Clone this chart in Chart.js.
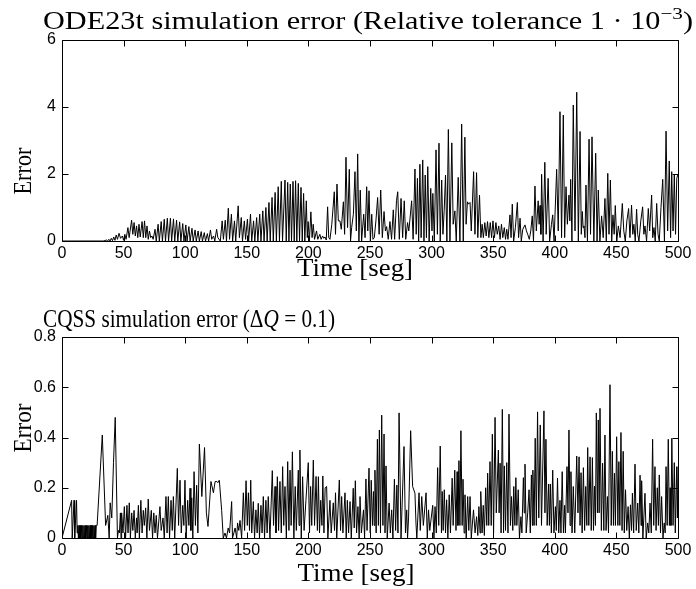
<!DOCTYPE html>
<html>
<head>
<meta charset="UTF-8">
<title>ODE23t / CQSS simulation error</title>
<script src="https://cdn.jsdelivr.net/npm/chart.js@4.4.0/dist/chart.umd.min.js"></script>
<style>
  body { margin: 0; background: #fff; }
  canvas { display: block; }
</style>
</head>
<body>
<canvas id="ode" width="696" height="295"></canvas>
<canvas id="cqss" width="696" height="294"></canvas>
<script>
// tick positions
const timeTicks = [0, 50, 100, 150, 200, 250, 300, 350, 400, 450, 500];
const odeTicks = [0, 2, 4, 6];
const cqssTicks = [0, 0.2, 0.4, 0.6, 0.8];

// ODE23t error, [time, error] (peaks and troughs)
const odeSeries = [
  [0,0],[34,0],[36,0.03],[37,0],[38,0.05],[39,0],[40,0.08],[41,0.01],[42,0.12],[43,0.02],[44,0.18],[45,0.05],
  [46.3,0.23],[47.5,0.08],[49,0.15],[50,0.02],[51,0.2],[52,0.05],[53.5,0.4],[54.5,0.1],[56.5,0.62],[57.5,0.2],
  [58.5,0.55],[59.5,0.15],[60.5,0.45],[61.5,0.1],[62.5,0.5],[63.5,0.12],[65,0.58],[66,0.1],[67,0.6],[68,0.1],
  [69,0.45],[70,0.05],[71,0.3],[72,0.1],[73,0.15],[74,0.05],
  [75.5,0.35],[76.5,0],[78,0.5],[79,0],[80.5,0.58],[81.5,0],[83,0.65],[84,0],[85.5,0.68],[86.5,0],[88,0.68],[89,0],
  [90.5,0.66],[91.5,0],[93,0.62],[94,0],[95.5,0.57],[96.5,0],[98,0.52],[99,0],[100.5,0.48],[101.5,0],[103,0.43],[104,0],
  [105.5,0.38],[106.5,0],[108,0.33],[109,0],[110.5,0.3],[111.5,0],[113,0.28],[114,0],[115.5,0.25],[116.5,0],
  [118,0.22],[119,0],[120.5,0.33],[121.5,0.05],[123,0.15],[124,0],[125.5,0.35],[126.5,0.1],[128.5,0],
  [130,0.6],[131,0.05],[132.5,0.62],[133.5,0],[135,0.98],[136,0.05],[137.5,0.8],[138.5,0],[140,0.6],[141,0],
  [143,1.05],[144,0.1],[145.5,0.7],[146.5,0],[148,0.6],[149,0.05],[150.5,0.65],[151.5,0],[153,0.8],[154,0],
  [155.5,0.6],[156.5,0],[158,0.7],[159,0],[160.5,0.8],[161.5,0],[163,0.9],[164,0],[165.5,1.0],[166.5,0],
  [168,1.15],[169,0],[170.5,1.3],[171.5,0],[173,1.45],[174,0],[175.5,1.62],[176.5,0],[178,1.78],[179,0],
  [181,1.82],[182,0],[183.2,1.75],[184.2,0],[185.3,1.7],[186.3,0],[187.5,1.78],[188.5,0],[189.6,1.8],[190.6,0],
  [191.8,1.72],[192.8,0],[194,1.6],[195,0],[196.1,1.42],[197.1,0],[198.3,1.2],[199.1,0.1],[199.8,0.58],[200.8,0],
  [202,0.87],[203,0.1],[203.9,0.5],[205,0.05],[206.6,0.3],[207.6,0.05],[209.3,0.2],[210.3,0.05],[211.5,0.15],
  [212.5,0.08],[213.5,0.12],[214.5,0.03],
  [215.6,1.02],[216.5,0.1],[217.5,0.05],[219,0.5],[221,1.47],[222,0.2],[223.2,1.7],[224.3,0.6],[225.6,0.6],
  [226.7,0.35],[228.4,1.17],[229.4,0.2],[230.5,2.5],[231.8,0.4],[233.2,2.14],[234.2,0],[235.1,0.4],[236.5,0.8],
  [237.8,2.07],[238.9,0.3],[240,2.6],[241,0],[242.1,1.52],[243.2,0],[244.9,0.8],[246,0.1],[247.3,1.62],[248.2,0.3],
  [249.2,1.5],[250.3,0],[251.4,0.8],[252.4,0.05],[253.5,0.1],[254.8,0.6],[256.2,1.3],[257.4,0.2],[258.7,1.52],
  [260,0.1],[261.4,0.88],[262.5,0.3],[263.5,0.43],[264.8,0.05],[266.2,0.58],[267.5,0.05],[268.9,0.93],[270,0.05],
  [271.5,1.2],[272.5,1.47],[273.8,0.05],[275.2,1.27],[276.5,0.1],[277.8,1.2],[279,0.05],[280.5,0.55],[281.5,0.3],
  [282.3,0.6],[283.8,1.2],[285,0.05],
  [286.5,2.15],[287.5,0.2],[288.5,1.87],[289.5,0],[290.5,2.29],[291.5,0.1],[292.8,2.42],[293.8,0],[294.8,1.97],
  [295.8,0.1],[296.9,2.22],[298,0],[299.3,1.57],[300.3,0.3],[301,1.42],[302.2,0],[303.6,2.72],[304.7,0.2],
  [306,2.92],[307,0],[308.2,1.82],[309.2,0.2],[310.2,0.9],[311.3,1.97],[312.4,0],[313.6,3.33],[314.9,0],
  [316.4,2.93],[317.5,0.5],[318.9,0.9],[320,0],[321.6,1.9],[323,0],[324.4,3.49],[325.7,0],[327,3.1],[328,0.5],
  [329.1,1.17],[330,1.1],[331.2,1.15],[332.2,0.3],[334.1,2.07],[335.2,0.2],[336.5,2.04],[337.5,0.1],[338.9,1.37],[340,0.1],
  [341,0.5],[342,0.1],[343.2,0.55],[344.3,0.15],[345.4,0.58],[346.5,0.1],[347.6,0.55],[348.7,0.1],[349.8,0.6],[351,0.1],
  [352.2,0.55],[353.3,0.2],[354.5,0.45],[355.6,0.05],[356.7,0.5],[357.8,0.1],[359,0.4],[360,0.05],[361,0.35],[362,0.05],
  [363.6,0.78],[364.5,0.1],[365.5,1.1],[366.6,0],[368,0.4],[369.6,1.15],[370.6,0.1],[371.8,0.68],[372.8,0],[374,0.35],
  [375.8,0.48],[377,0.3],[378,0.2],[379.3,0.05],[380.5,0.3],[381.7,0.75],[382.7,0],
  [383.9,1.64],[385,0.3],[386.5,1.2],[387.3,0.5],[388,1.06],[388.7,0.2],[389.3,1.99],[390.5,0],[391.9,2.35],[393,0.2],
  [394.6,1.87],[395.8,0],[397.3,0.5],[398.3,0.78],[399.4,0],[401.5,2.14],[402.8,0.3],[404.2,3.86],[405.5,0.1],
  [406.9,3.76],[408,0.1],[409.1,1.62],[410.2,0.5],[411.5,1.37],[412.2,0.6],[412.9,1.84],[413.9,0],[415,4.06],
  [416.4,0.3],[417.8,4.44],[419.1,0],[420.5,3.27],[421.5,0.2],[422.3,0.88],[423,0.4],[423.7,0.45],[424.5,0.1],
  [425.3,1.67],[426.5,0],[427.8,3.04],[429,0.2],[430.2,3.11],[431.7,0],[433.2,2.62],[434.3,0],[435.3,1.52],[436.6,0],
  [438,0.75],[439.3,0.1],[440.7,1.27],[441.8,0],[443,2.02],[444,0.2],[445.1,1.82],[446.2,0],[447.2,0.78],[448.2,0.2],
  [449.1,1.06],[450.3,0],[451.6,0.45],[453,0.1],[454.8,1.12],[456,0.3],[457.2,0],[458.5,0.6],[459.9,0.97],[461,0.1],
  [462.3,1.07],[463.3,0.2],[464.2,0.5],[465.3,0],[466.4,0.95],[467.3,0.2],[468.3,0],[469.8,0.6],[471.3,1.02],[472.3,0.2],
  [473.2,0.45],[474.5,0],[475.9,0.97],[477,0.3],[478.6,1.37],[479.5,0.1],[480.5,0.4],[481.5,0],[482.7,1.12],[483.8,0.2],
  [484.8,0],[486.2,1.0],[487.6,1.84],[489,0],[490.3,3.28],[491.6,0.3],[492.9,2.39],[494,0.1],[494.9,2.07],[496,0.3],
  [497,1.97],[498,0.2],[499,1.87],[500,2.0]
];

// CQSS error, [time, error]
const cqssSeries = [
  [0,0],[7.8,0.15],[8.3,0],[9.8,0.15],[10.3,0],[11.8,0.15],[12.3,0.02],[12.8,0.05],[13.3,0],[13.8,0.05],[14.3,0],
  [14.8,0.05],[15.3,0],[15.8,0.05],[16.3,0],[16.8,0.05],[17.3,0],[17.8,0.05],[18.3,0],[18.8,0.05],[19.3,0],[19.8,0.05],
  [20.3,0],[20.8,0.05],[21.3,0],[21.8,0.05],[22.3,0],[22.8,0.05],[23.3,0],[23.8,0.05],[24.3,0],[24.8,0.05],[25.3,0],
  [25.8,0.05],[26.3,0],[26.8,0.05],[27.3,0],[27.8,0.05],[28.5,0.05],
  [32.7,0.41],[35.4,0.05],[37.2,0.09],[38.3,0],[39.1,0.14],[40.4,0.08],[41.8,0.3],[43.2,0.48],[45,0],[45.8,0.03],
  [46.6,0.02],[47.4,0.1],[47.9,0],[48.4,0.1],[49.5,0.02],[50.6,0.125],[51.6,0],[52.7,0.13],[53.6,0.02],[54.6,0.14],
  [55.5,0],[56.6,0.1],[57.5,0.03],[58.5,0.11],[59.5,0],[60.5,0.08],[61,0.02],[62,0.13],[62.8,0],[64,0.15],[65,0.02],
  [66,0.11],[66.8,0.05],[67.9,0.12],[68.9,0],[70,0.155],[71,0.03],[72.5,0.11],[73.5,0],[74.5,0.1],[75.5,0.02],
  [76.5,0.09],[77.5,0],[79.5,0.125],[80.5,0.03],[82,0.08],[83,0],[84.4,0.165],[85.3,0.02],[86.3,0.165],[87.3,0],
  [88.5,0.15],[89.5,0.03],[90.4,0.165],[91.5,0],[93.6,0.277],[94.6,0.05],[95.8,0.23],[96.8,0.02],[98,0.13],[98.9,0.05],
  [99.8,0.23],[100.8,0],[102,0.15],[103,0.05],[103.9,0.198],[104.6,0.03],[105.3,0.16],[106.2,0],[107.2,0.264],
  [108.3,0.05],[109.3,0.21],[110.3,0.02],[111.5,0.374],[113.5,0.165],[115.7,0.36],[117.2,0.1],[118.5,0.046],
  [120.9,0.225],[122.9,0.18],[124.3,0.225],[125.7,0.225],[126.5,0.22],[127.7,0.23],[129.6,0.11],[130.9,0],
  [132.3,0.02],[133.5,0],[134.9,0.04],[136,0.02],[137.7,0.145],[138.4,0],[139.5,0.02],[140.5,0.04],[141.8,0],
  [142.5,0.06],[143.5,0.03],[144.5,0.07],[145.8,0],[147.2,0.18],[148.2,0.03],[149.4,0.228],[150.4,0.05],[151.3,0.18],
  [152.2,0.03],[153.2,0.23],[154,0.02],[155.3,0.145],[156.3,0],[157.4,0.112],[158.4,0.02],[159.3,0.138],[160.3,0],
  [161.5,0.13],[162.4,0.02],[163.4,0.165],[164.4,0],[165.5,0.15],[166.5,0.02],[167.4,0.165],[168.8,0],[170.7,0.268],
  [171.7,0.05],[172.9,0.205],[173.7,0.02],[174.8,0.244],[175.8,0.03],[176.9,0.225],[178,0.02],[179.1,0.284],[180,0.05],
  [181,0.205],[182.1,0],[183.2,0.304],[184.2,0.03],[185.1,0.27],[186,0.05],[187,0.343],[188.2,0],[189.3,0.205],
  [190.2,0.03],[191.8,0.27],[192.4,0.05],[193.1,0.35],[194.2,0],[195.3,0.244],[196.5,0.03],[198,0.15],[199.9,0.3],
  [200.9,0.02],[201.8,0.205],[202.7,0.05],[204,0.31],[205,0.05],[206.2,0.245],[207.3,0.03],[208.1,0.244],[209,0.02],
  [210,0.15],[211,0.05],[211.7,0.247],[212.6,0.02],[213.6,0.2],[214.8,0.205],[215.8,0],[217.5,0.15],[218.5,0.02],
  [220.2,0.14],[221.2,0.03],[222,0.18],[223,0],[225.1,0.231],[226.1,0.03],[227,0.165],[228,0.02],[229.7,0.18],
  [230.7,0],[231.6,0.15],[232.6,0.02],[233.8,0.145],[234.8,0],[236.4,0.198],[237.2,0.04],[238.1,0.228],[239.1,0.02],
  [240.2,0.125],[241.2,0],[241.9,0.165],[243,0.02],[244.7,0.112],[245.6,0],
  [246.7,0.235],[247.6,0.03],[249.2,0.278],[250.2,0.02],[251,0.23],[252,0.05],[252.8,0.185],[253.4,0.05],[254,0.27],
  [255,0.02],[256,0.393],[256.8,0.05],[257.6,0.43],[258.5,0.02],[259.5,0.489],[260.5,0.05],[261.4,0.414],[262.2,0.02],
  [263,0.287],[264,0],[265.5,0.139],[266.5,0.02],[267.6,0.112],[268.6,0],[269.8,0.234],[270.8,0.03],[271.8,0.211],
  [272.7,0.02],[273.6,0.498],[275.2,0],[277.6,0.364],[278.8,0.02],[279.8,0.112],[280.5,0],[281.3,0.08],[283,0.427],
  [284.6,0.205],[286.5,0.178],[287.3,0.06],[288,0],[289.8,0.18],[290.8,0.03],[292,0.165],[293.3,0.05],[295.5,0.18],
  [296.5,0],[297.5,0.112],[298.5,0.03],[300.9,0.13],[301.9,0],[302.8,0.125],[303.8,0.02],[304.9,0.28],[305.8,0.05],
  [307,0.366],[308,0.02],[308.6,0.185],[309.4,0.03],[310.3,0.192],[311.3,0.02],[312.2,0.152],[313.2,0],[314.3,0.172],
  [315.3,0.02],[316.7,0.238],[317.5,0.05],[318.8,0.27],[319.8,0.03],[320.7,0.264],[321.4,0.05],[322.2,0.308],[323,0.05],
  [323.8,0.427],[324.8,0.05],[325.5,0.234],[326.4,0.02],[327.1,0.172],[328.1,0],[329.3,0.165],[330.2,0.03],[331.2,0.165],
  [332.2,0],[334,0.112],[335.3,0.02],[336.5,0.085],[337.5,0.01],[338.4,0.125],[339.3,0.02],[339.9,0.185],[341,0.02],
  [341.9,0.13],[342.8,0.01],[343.9,0.2],[344.8,0.05],[345.5,0.258],[346.4,0.05],[347.4,0.304],[348.4,0.05],[349.3,0.413],
  [350.3,0.02],[351.5,0.48],[352.5,0.1],[354.2,0.35],[354.8,0.1],[355.6,0.298],[356.4,0.02],[357.4,0.512],[358.4,0.02],
  [359,0.287],[360,0.03],[361,0.3],[362,0.02],[362.8,0.493],[364,0.05],[364.9,0.165],[365.9,0.03],[366.7,0.205],
  [367.6,0.05],[368.4,0.24],[369.2,0.05],[370.3,0.192],[371.3,0],[372.5,0.085],[373.3,0.02],[374.5,0.24],[375.2,0.1],
  [375.8,0.294],[376.8,0.02],[378,0.1],[379.1,0.192],[380.1,0.02],[381,0.251],[381.8,0.05],[382.2,0.27],[383.2,0.05],
  [384.1,0.397],[385,0.05],[386,0.502],[387,0.08],[388.2,0.45],[389.2,0.05],[391.2,0.506],[392,0.1],[392.8,0.393],
  [393.8,0.05],[395,0.215],[395.6,0.05],[396.4,0.215],[397.2,0.02],[398.3,0.27],[399.3,0.02],[400.5,0.125],[401.2,0.03],
  [402.2,0.238],[403.2,0.02],[404.2,0.15],[405,0.02],[406,0.264],[407,0.02],[408,0.13],[408.6,0.02],[409.9,0.284],
  [410.7,0.1],[411.5,0.43],[412.4,0.05],[413.1,0.264],[414,0.02],[415,0.205],[416.2,0.02],[417.8,0.326],[418.8,0.1],
  [419.7,0.323],[420.5,0.05],[421.3,0.26],[422.2,0.02],[423.2,0.28],[424.2,0.03],[425.1,0.205],[426,0.05],[426.7,0.36],
  [427.6,0.05],[428.6,0.323],[429.6,0.03],[430.5,0.32],[431.4,0.03],[432.2,0.207],[433,0.05],[433.7,0.498],[434.6,0.1],
  [435.3,0.47],[436,0.1],[436.7,0.516],[437.8,0.03],[438.8,0.298],[439.8,0.03],[440.7,0.41],[441.6,0.03],[442.7,0.165],
  [443.6,0.02],[444.8,0.61],[445.8,0.05],[446.7,0.345],[447.6,0.05],[448.4,0.258],[449.2,0.05],[450.2,0.403],[451.2,0.05],
  [452,0.304],[452.8,0.05],[453.7,0.42],[454.6,0.03],[455.5,0.345],[456.4,0.02],[457.4,0.192],[458.4,0.03],[459.5,0.125],
  [460.5,0],[461.4,0.132],[462.3,0.03],[463,0.178],[464,0.02],[465.1,0.294],[466.1,0.03],[467.3,0.139],[468.2,0.02],
  [469.2,0.25],[470,0.05],[470.5,0.228],[471.5,0],[473.2,0.178],[474.2,0],[475.4,0.06],[476.3,0.02],[477.3,0.139],
  [478.3,0.02],[479.4,0.393],[480.3,0.05],[481.3,0.284],[482.2,0.03],[483.2,0.2],[484.1,0.05],[484.8,0.251],[485.8,0.02],
  [486.7,0.165],[487.8,0],[488.8,0.06],[489.6,0.02],[490.3,0.284],[491.2,0.05],[492.1,0.393],[493,0.05],[493.6,0.2],
  [494.3,0.05],[495,0.397],[496,0.05],[497,0.3],[497.8,0.02],[498.9,0.284],[499.5,0.08],[500,0.284]
];

const serif = "'Liberation Serif', 'Times New Roman', serif";
const sans = "'Liberation Sans', Arial, sans-serif";

// draw text pieces (superscript / italic bits), squeezed or stretched to a given width
function drawRich(ctx, parts, x, y, size, width) {
  ctx.textAlign = 'left';
  ctx.textBaseline = 'alphabetic';
  const fontOf = p => (p.italic ? 'italic ' : '') + (p.sup ? size * 0.7 : size) + 'px ' + serif;
  let natural = 0;
  parts.forEach(p => { ctx.font = fontOf(p); natural += ctx.measureText(p.t).width; });
  ctx.save();
  ctx.translate(x, y);
  ctx.scale(width / natural, 1);
  let cx = 0;
  parts.forEach(p => {
    ctx.font = fontOf(p);
    ctx.fillText(p.t, cx, p.sup ? -size * 0.42 : 0);
    cx += ctx.measureText(p.t).width;
  });
  ctx.restore();
}

// matlab style box, inward ticks on all four sides and the labels
const matlabAxes = {
  id: 'matlabAxes',
  afterDatasetsDraw(chart, args, o) {
    const {ctx, chartArea: a, scales: {x, y}} = chart;
    const L = Math.round(a.left) + 0.5, R = Math.round(a.right) + 0.5;
    const T = Math.round(a.top) + 0.5, B = Math.round(a.bottom) + 0.5;
    ctx.save();
    ctx.strokeStyle = '#000';
    ctx.lineWidth = 1;
    ctx.beginPath();
    ctx.rect(L, T, R - L, B - T);
    x.ticks.forEach(t => {
      const p = Math.round(x.getPixelForValue(t.value)) + 0.5;
      ctx.moveTo(p, B); ctx.lineTo(p, B - 6);
      ctx.moveTo(p, T); ctx.lineTo(p, T + 6);
    });
    y.ticks.forEach(t => {
      const p = Math.round(y.getPixelForValue(t.value)) + 0.5;
      ctx.moveTo(L, p); ctx.lineTo(L + 6, p);
      ctx.moveTo(R, p); ctx.lineTo(R - 6, p);
    });
    ctx.stroke();

    ctx.fillStyle = '#000';
    const t = o.title, xt = o.xTitle, yt = o.yTitle;
    drawRich(ctx, t.parts, t.left, t.base, t.size, t.width);
    drawRich(ctx, [{t: xt.text}], xt.center - xt.width / 2, xt.base, xt.size, xt.width);
    ctx.translate(yt.base, yt.center);
    ctx.rotate(-Math.PI / 2);
    drawRich(ctx, [{t: yt.text}], -yt.width / 2, 0, yt.size, yt.width);
    ctx.restore();
  }
};

function makeChart(id, series, yTicks, yMax, pad, labels) {
  return new Chart(document.getElementById(id), {
    type: 'line',
    data: {
      datasets: [{
        data: series.map(p => ({x: p[0], y: p[1]})),
        borderColor: '#000',
        borderWidth: 1,
        pointRadius: 0,
        tension: 0,
        fill: false
      }]
    },
    options: {
      responsive: false,
      animation: false,
      events: [],
      layout: {padding: pad},
      plugins: {
        legend: {display: false},
        tooltip: {enabled: false},
        matlabAxes: labels
      },
      scales: {
        x: {
          type: 'linear', min: 0, max: 500,
          afterBuildTicks: s => { s.ticks = timeTicks.map(v => ({value: v})); },
          afterFit: s => { s.height = 24; },
          grid: {display: false, drawTicks: false},
          border: {display: false},
          ticks: {color: '#000', font: {family: sans, size: 16}, padding: 3, maxRotation: 0, autoSkip: false}
        },
        y: {
          type: 'linear', min: 0, max: yMax,
          afterBuildTicks: s => { s.ticks = yTicks.map(v => ({value: v})); },
          afterFit: s => { s.width = 50; },
          grid: {display: false, drawTicks: false},
          border: {display: false},
          ticks: {color: '#000', font: {family: sans, size: 16}, padding: 6, autoSkip: false}
        }
      }
    },
    plugins: [matlabAxes]
  });
}

makeChart('ode', odeSeries, odeTicks, 6,
  {left: 12, right: 18, top: 40, bottom: 30},
  {
    title: {
      parts: [{t: 'ODE23t simulation error (Relative tolerance 1 \u00b7 10'}, {t: '\u22123', sup: true}, {t: ')'}],
      left: 43, base: 29, size: 25, width: 650
    },
    xTitle: {text: 'Time [seg]', center: 355, base: 276, size: 25, width: 116},
    yTitle: {text: 'Error', center: 171, base: 31, size: 25, width: 47}
  });

makeChart('cqss', cqssSeries, cqssTicks, 0.8,
  {left: 12, right: 18, top: 42, bottom: 27},
  {
    title: {
      parts: [{t: 'CQSS simulation error (\u0394'}, {t: 'Q', italic: true}, {t: ' = 0.1)'}],
      left: 43, base: 32, size: 25, width: 292
    },
    xTitle: {text: 'Time [seg]', center: 356, base: 286, size: 25, width: 117},
    yTitle: {text: 'Error', center: 133, base: 31, size: 25, width: 49}
  });
</script>
</body>
</html>
